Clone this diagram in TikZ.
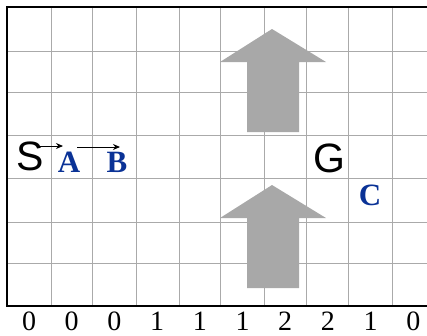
\documentclass[tikz,border=0pt]{standalone}
\usepackage{fontspec}
\setmainfont{Liberation Serif}
\newfontfamily\arialfont{Liberation Sans}
\usepackage{tikz}
\usetikzlibrary{arrows.meta}

\definecolor{letterblue}{RGB}{10,50,150}
\definecolor{gridgray}{RGB}{170,170,170}
\definecolor{arrowgray}{RGB}{168,168,168}

\tikzset{
    endpoint/.style={font=\arialfont\fontsize{41}{41}\selectfont, inner sep=0pt},
    waypoint/.style={font=\bfseries\fontsize{31}{31}\selectfont, text=letterblue, inner sep=0pt},
    count/.style={font=\fontsize{28}{28}\selectfont, inner sep=0pt},
    move/.style={-{Stealth[length=7pt,width=6pt]}, line width=0.9pt},
    wind/.style={fill=arrowgray}
}

\begin{document}
\begin{tikzpicture}[x=1pt,y=-1pt]

\useasboundingbox (0,0) rectangle (427,335);

\foreach \gx in {51,92,136,179,220,264,306,348,392}
    \draw[gridgray, line width=0.9pt] (\gx,7) -- (\gx,306);
\foreach \gy in {51,92,135,178,222,263}
    \draw[gridgray, line width=0.9pt] (7,\gy) -- (427,\gy);

\draw[line width=1.5pt] (427,7) -- (7,7) -- (7,306) -- (427,306);

\fill[wind] (272,29) -- (326,62) -- (299,62) -- (299,132)
    -- (247,132) -- (247,62) -- (220,62) -- cycle;
\fill[wind] (272,185) -- (326,218) -- (299,218) -- (299,288)
    -- (247,288) -- (247,218) -- (220,218) -- cycle;

\node[endpoint] (s) at (30,156) {S};
\node[endpoint] (g) at (329,158) {G};

\node[waypoint] (a) at (69,162) {A};
\node[waypoint] (b) at (117,162) {B};
\node[waypoint] (c) at (370,195) {C};

\coordinate (sa) at (40,146);
\coordinate (sa end) at (63,146);
\coordinate (ab) at (77,147);
\coordinate (ab end) at (120,147);
\draw[move] (sa) -- (sa end);
\draw[move] (ab) -- (ab end);

\foreach \v [count=\i from 0] in {0,0,0,1,1,1,2,2,1,0}
    \node[count] (n\i) at (29+42.7*\i,321) {\v};

\end{tikzpicture}
\end{document}
